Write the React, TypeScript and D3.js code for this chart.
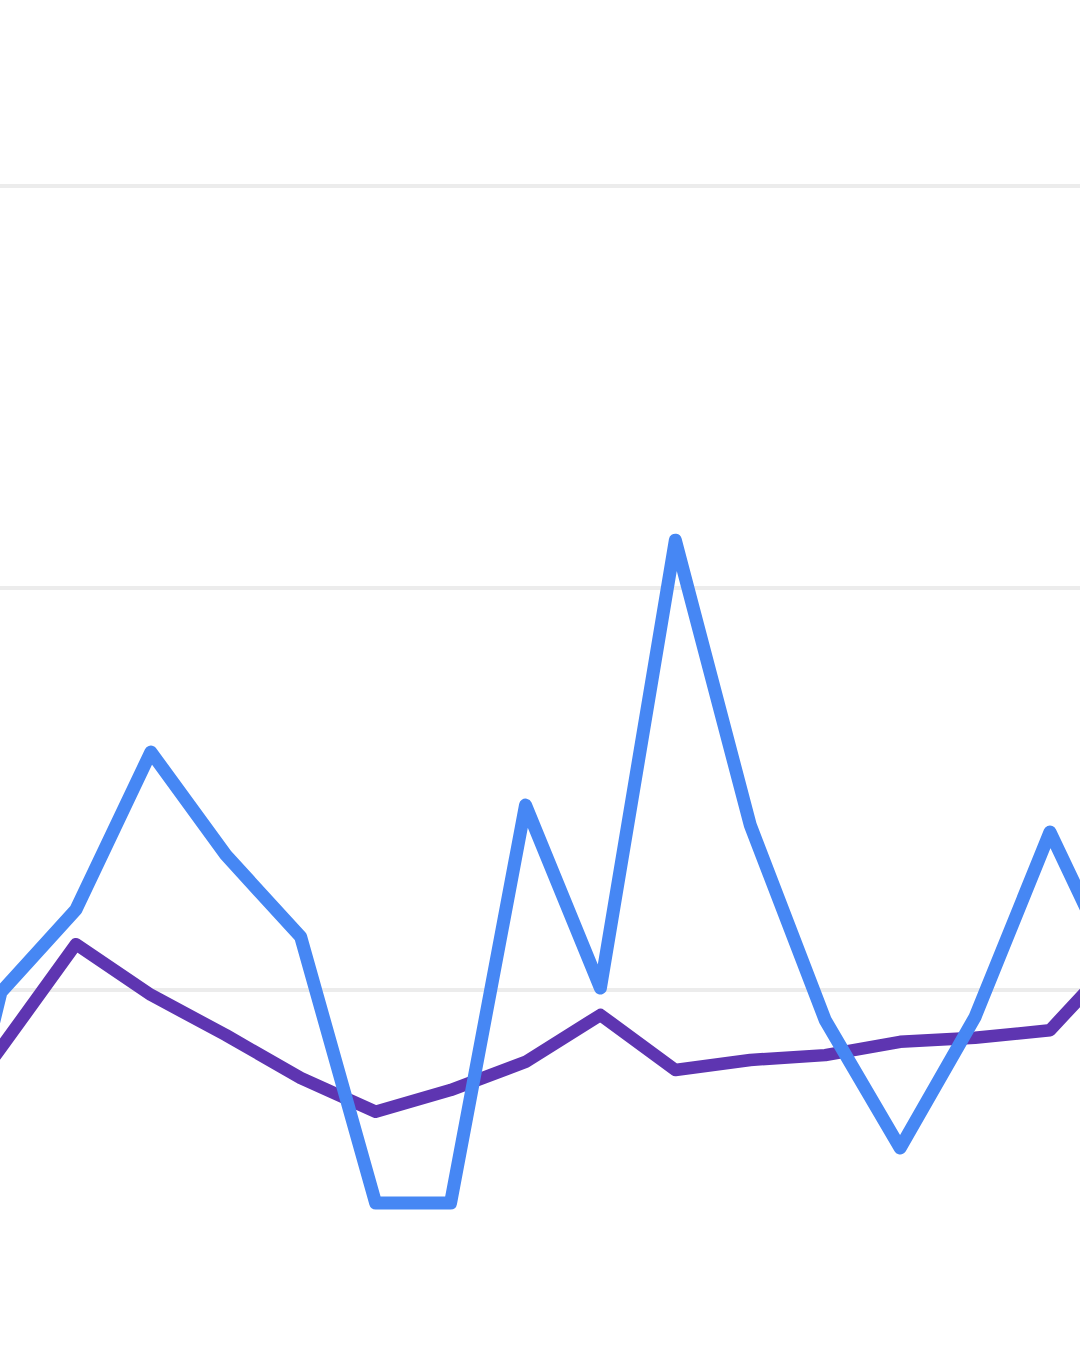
import * as d3 from 'd3';

// The picture is a tight crop of a larger line chart: the first and last points sit just outside the frame.
const positions = [-1, 0, 1, 2, 3, 4, 5, 6, 7, 8, 9, 10, 11, 12, 13, 14, 15];
const blueValues = [23, 99.5, 120, 159.2, 133.6, 113.2, 47, 47, 146, 100.5, 211.9, 141, 92.5, 60.7, 93.3, 139.3, 100];
const purpleValues = [60.2, 85.6, 111.4, 98.8, 88.8, 78.1, 69.7, 75.1, 82.1, 93.8, 80.1, 82.6, 83.8, 87.1, 88.1, 90, 110];
const gridValues = [100, 200, 300];

const WIDTH = 1080;
const HEIGHT = 1350;

export default function App() {
  const xScale = d3.scaleLinear().domain([0, 14]).range([1, 1050]);
  const yScale = d3.scaleLinear().domain([100, 300]).range([990, 186]);
  const line = d3.line<number>()
    .x((_, i) => xScale(positions[i]))
    .y((v) => yScale(v));

  return (
    <div style={{ position: 'absolute', top: 0, left: 0, width: WIDTH, height: HEIGHT, background: '#fff' }}>
      <svg width={WIDTH} height={HEIGHT} viewBox={`0 0 ${WIDTH} ${HEIGHT}`} style={{ display: 'block' }}>
        <rect width={WIDTH} height={HEIGHT} fill="#fff" />
        {gridValues.map((v) => (
          <line key={v} x1={0} x2={WIDTH} y1={yScale(v)} y2={yScale(v)} stroke="#ececec" strokeWidth={4} />
        ))}
        <path d={line(purpleValues) ?? undefined} fill="none" stroke="#5e35b1" strokeWidth={12.5} strokeLinejoin="round" />
        <path d={line(blueValues) ?? undefined} fill="none" stroke="#4687f4" strokeWidth={13} strokeLinejoin="round" />
      </svg>
    </div>
  );
}
